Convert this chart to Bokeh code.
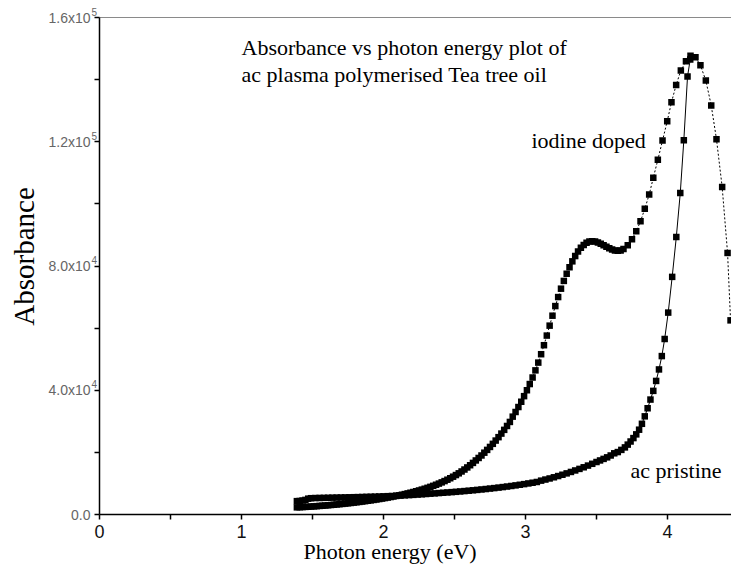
import math
from bokeh.plotting import figure
from bokeh.models import Range1d, FixedTicker, LinearAxis, Label
from bokeh.embed import file_html
from bokeh.resources import INLINE

# ---------------- data ----------------
doped_energy = [
    1.39, 1.41, 1.43, 1.45, 1.47, 1.49, 1.51, 1.53, 1.55, 1.57, 1.59, 1.61, 1.63, 1.65,
    1.67, 1.69, 1.71, 1.73, 1.75, 1.77, 1.79, 1.81, 1.83, 1.85, 1.87, 1.89, 1.91, 1.93,
    1.95, 1.97, 1.99, 2.01, 2.03, 2.05, 2.07, 2.09, 2.11, 2.13, 2.15, 2.17, 2.19, 2.21,
    2.23, 2.25, 2.27, 2.29, 2.31, 2.33, 2.35, 2.37, 2.39, 2.41, 2.43, 2.45, 2.47, 2.49,
    2.51, 2.53, 2.55, 2.57, 2.59, 2.61, 2.63, 2.65, 2.67, 2.69, 2.71, 2.73, 2.75, 2.77,
    2.79, 2.81, 2.83, 2.85, 2.87, 2.89, 2.91, 2.93, 2.95, 2.97, 2.99, 3.01, 3.03, 3.05,
    3.07, 3.09, 3.11, 3.13, 3.15, 3.17, 3.19, 3.21, 3.23, 3.25, 3.27, 3.29, 3.31, 3.33,
    3.35, 3.37, 3.39, 3.41, 3.43, 3.45, 3.47, 3.49, 3.51, 3.53, 3.55, 3.57, 3.59, 3.61,
    3.63, 3.65, 3.67, 3.69, 3.72, 3.75, 3.78, 3.81, 3.84, 3.871, 3.90, 3.932, 3.965,
    3.998, 4.028, 4.061, 4.094, 4.13, 4.162, 4.197, 4.232, 4.27, 4.308, 4.345, 4.385,
    4.423, 4.444]
doped_absorbance = [
    2300, 2350, 2400, 2450, 2500, 2560, 2620, 2690, 2760, 2830, 2900, 2980, 3060, 3140,
    3230, 3320, 3410, 3510, 3610, 3710, 3820, 3930, 4050, 4170, 4290, 4420, 4550, 4690,
    4830, 4980, 5130, 5290, 5450, 5620, 5800, 5980, 6170, 6370, 6570, 6790, 7010, 7240,
    7490, 7740, 8010, 8290, 8590, 8900, 9230, 9580, 9950, 10340, 10760, 11200, 11670, 12170,
    12700, 13260, 13850, 14480, 15150, 15860, 16610, 17400, 18200, 19000, 19900, 20800, 21750, 22750,
    23800, 24900, 26050, 27250, 28500, 29800, 31500, 33000, 34600, 36300, 38100, 40000, 42000, 44100,
    46400, 48900, 51600, 54500, 57600, 60800, 64000, 67100, 70000, 72700, 75200, 77500, 79600, 81500,
    83200, 84700, 85900, 86800, 87500, 87900, 88000, 87900, 87600, 87200, 86700, 86200, 85700, 85300,
    85000, 84900, 85000, 85500, 86700, 88600, 91200, 94400, 98400, 103000, 108400, 114200, 120400,
    126600, 132700, 138300, 142900, 145900, 147700, 147200, 144600, 139700, 131700, 120800, 105400,
    84200, 62500]

pristine_energy = [
    1.39, 1.41, 1.43, 1.45, 1.47, 1.49, 1.52, 1.55, 1.58, 1.61, 1.64, 1.67, 1.70, 1.73,
    1.76, 1.79, 1.82, 1.85, 1.88, 1.91, 1.94, 1.97, 2.00, 2.03, 2.06, 2.09, 2.12, 2.15,
    2.18, 2.21, 2.24, 2.27, 2.30, 2.33, 2.36, 2.39, 2.42, 2.45, 2.48, 2.51, 2.54, 2.57,
    2.60, 2.63, 2.66, 2.69, 2.72, 2.75, 2.78, 2.81, 2.84, 2.87, 2.90, 2.93, 2.96, 2.99,
    3.02, 3.05, 3.08, 3.11, 3.14, 3.17, 3.20, 3.23, 3.26, 3.29, 3.32, 3.35, 3.38, 3.41,
    3.44, 3.47, 3.50, 3.525, 3.55, 3.575, 3.60, 3.625, 3.65, 3.675, 3.70, 3.72, 3.74, 3.76,
    3.78, 3.80, 3.82, 3.84, 3.86, 3.88, 3.90, 3.92, 3.94, 3.96, 3.98, 4.005, 4.033, 4.062,
    4.09, 4.115, 4.141, 4.16]
pristine_absorbance = [
    4300, 4350, 4500, 4700, 5100, 5250, 5300, 5330, 5360, 5390, 5420, 5450, 5480, 5510,
    5540, 5570, 5600, 5640, 5680, 5720, 5760, 5800, 5850, 5900, 5960, 6020, 6090, 6160,
    6240, 6320, 6410, 6500, 6600, 6700, 6800, 6900, 7000, 7100, 7200, 7300, 7420, 7540,
    7660, 7790, 7920, 8060, 8200, 8350, 8500, 8660, 8830, 9000, 9180, 9370, 9570, 9780,
    10000, 10230, 10470, 10900, 11250, 11600, 11980, 12380, 12800, 13240, 13700, 14180, 14680, 15200,
    15750, 16320, 16900, 17400, 17900, 18400, 19000, 19700, 20100, 20800, 21600, 22500, 23500, 24600,
    25800, 27300, 29200, 31600, 34200, 37000, 39800, 43000, 46700, 51000, 56500, 65000, 76500, 89300,
    103500, 120500, 141000, 146500]

x_ticks = [0, 1, 2, 3, 4]
x_tick_labels = ["0", "1", "2", "3", "4"]
x_minor_ticks = [0.5, 1.5, 2.5, 3.5]
y_ticks = [0, 40000, 80000, 120000, 160000]
y_tick_labels = ["0.0", "4.0x10", "8.0x10", "1.2x10", "1.6x10"]
y_tick_exponents = ["", "4", "4", "5", "5"]
y_minor_ticks = [20000, 60000, 100000, 140000]

title_line1 = "Absorbance vs photon energy plot of"
title_line2 = "ac plasma polymerised Tea tree oil"
label_doped = "iodine doped"
label_pristine = "ac pristine"
x_title = "Photon energy (eV)"
y_title = "Absorbance"

# ---------------- geometry (canvas -> data) ----------------
W, H = 731, 564
X0_PX, Y0_PX = 99, 514          # pixel of (0, 0)
PX_PER_EV = 142.0
PX_PER_UNIT_Y = 497.0 / 160000.0

def dx(px):
    return (px - X0_PX) / PX_PER_EV

def dy(py):
    return (Y0_PX - py) / PX_PER_UNIT_Y

SERIF = "Liberation Serif"
SANS = "Liberation Sans"

p = figure(width=W, height=H, output_backend="svg", toolbar_location=None,
           x_range=Range1d(dx(0), dx(W)), y_range=Range1d(dy(H), dy(0)),
           min_border=0, min_border_left=0, min_border_right=0,
           min_border_top=0, min_border_bottom=0)
p.outline_line_color = None
p.xgrid.grid_line_color = None
p.ygrid.grid_line_color = None
p.background_fill_color = "white"
p.border_fill_color = "white"

# x axis
xa = p.xaxis[0]
xa.fixed_location = 0
xa.bounds = (0, dx(W))
xa.ticker = FixedTicker(ticks=x_ticks, minor_ticks=x_minor_ticks)
xa.major_label_overrides = dict(zip(x_ticks, x_tick_labels))
xa.axis_line_color = "black"
xa.axis_line_width = 1.5
for pre in ("major", "minor"):
    setattr(xa, pre + "_tick_line_color", "black")
    setattr(xa, pre + "_tick_line_width", 1.5)
    setattr(xa, pre + "_tick_in", 0)
    setattr(xa, pre + "_tick_out", 5)
xa.major_label_text_font = SANS
xa.major_label_text_font_size = "18px"
xa.major_label_text_color = "#111111"
xa.major_label_standoff = 5

# y axis
ya = p.yaxis[0]
ya.fixed_location = 0
ya.bounds = (0, 160000)
ya.ticker = FixedTicker(ticks=y_ticks, minor_ticks=y_minor_ticks)
ya.major_label_overrides = dict(zip(y_ticks, y_tick_labels))
ya.axis_line_color = "black"
ya.axis_line_width = 1.5
for pre in ("major", "minor"):
    setattr(ya, pre + "_tick_line_color", "black")
    setattr(ya, pre + "_tick_line_width", 1.5)
    setattr(ya, pre + "_tick_in", 0)
    setattr(ya, pre + "_tick_out", 5)
ya.major_label_text_font = SANS
ya.major_label_text_font_size = "14px"
ya.major_label_text_color = "#666666"
ya.major_label_standoff = 4

# top frame line (an axis without ticks or labels)
top_axis = LinearAxis(fixed_location=160000, bounds=(0, dx(W)),
                      ticker=FixedTicker(ticks=[], minor_ticks=[]),
                      major_tick_line_color=None, minor_tick_line_color=None,
                      axis_line_color="#8a8a8a", axis_line_width=1)
p.add_layout(top_axis, "above")

# exponents of the y tick labels
for t, e in zip(y_ticks, y_tick_exponents):
    if e:
        p.add_layout(Label(x=dx(91), y=t + 6 / PX_PER_UNIT_Y, text=e,
                           text_font=SANS, text_font_size="10px",
                           text_color="#666666", text_align="left",
                           text_baseline="middle"))

# ---------------- data glyphs ----------------
p.line(doped_energy, doped_absorbance, line_color="black", line_width=1,
       line_dash="2 2")
p.scatter(doped_energy, doped_absorbance, marker="square", size=6.5,
          fill_color="black", line_color="black", line_width=0)

p.line(pristine_energy, pristine_absorbance, line_color="black", line_width=1)
p.scatter(pristine_energy, pristine_absorbance, marker="square", size=6.5,
          fill_color="black", line_color="black", line_width=0)

# ---------------- text ----------------
def add_label(xpx, ypx, text, size, angle=0.0, align="left"):
    p.add_layout(Label(x=dx(xpx), y=dy(ypx), text=text, text_font=SERIF,
                       text_font_size=size, text_color="black", angle=angle,
                       text_align=align, text_baseline="middle"))

add_label(241, 47, title_line1, "22px")
add_label(241, 74, title_line2, "22px")
add_label(531, 140, label_doped, "22px")
add_label(630, 470, label_pristine, "22px")
add_label(303, 551, x_title, "22px")
add_label(23, 256, y_title, "29px", angle=math.pi / 2, align="center")

open("out.html", "w").write(file_html(p, INLINE))
